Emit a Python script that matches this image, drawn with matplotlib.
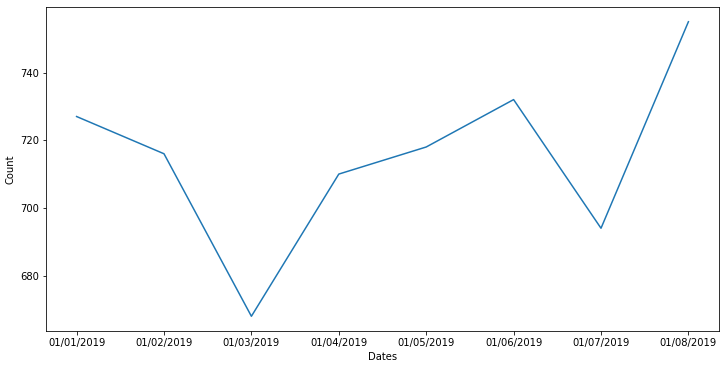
import matplotlib
matplotlib.use("Agg")
import matplotlib.pyplot as plt

dates = ["01/01/2019", "01/02/2019", "01/03/2019", "01/04/2019",
         "01/05/2019", "01/06/2019", "01/07/2019", "01/08/2019"]
counts = [727, 716, 668, 710, 718, 732, 694, 755]

fig = plt.figure(figsize=(724 / 72, 371 / 72), dpi=72)
ax = fig.add_axes([46 / 724, 1 - 331 / 371, 673 / 724, 324 / 371])
ax.plot(dates, counts, color="#1f77b4", lw=1.5)
ax.set_xlabel("Dates", fontsize=10)
ax.set_ylabel("Count", fontsize=10)
ax.tick_params(labelsize=10)

fig.savefig("out.png", dpi=72, facecolor="white")
